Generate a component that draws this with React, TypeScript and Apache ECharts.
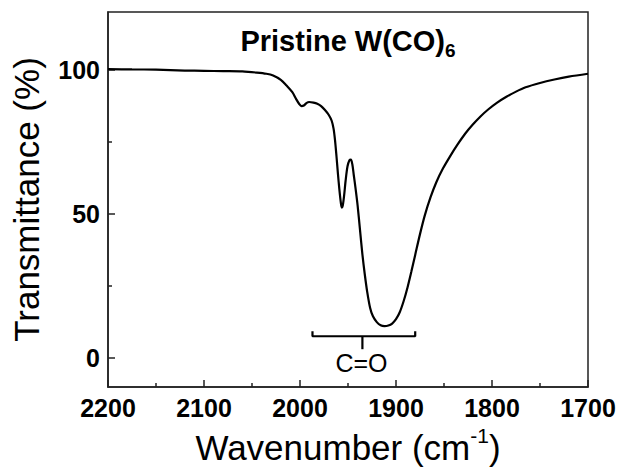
import React, { useEffect, useRef } from "react";
import * as echarts from "echarts";

const wavenumber = [
  2200, 2175, 2150, 2120, 2100, 2080, 2060, 2045, 2035, 2028, 2020, 2014, 2008, 2004, 2001,
  1998.5, 1996, 1993, 1990.5, 1986, 1982, 1978, 1974, 1970, 1967, 1965, 1963.5, 1962, 1960.5,
  1959, 1957.5, 1956.5, 1955.5, 1954, 1952.5, 1950.5, 1948.5, 1947, 1945.5, 1944, 1942, 1940,
  1937.5, 1935, 1932.5, 1930, 1927, 1924, 1920, 1916, 1912, 1908, 1904, 1900, 1896, 1892, 1888,
  1884, 1880, 1875, 1870, 1864, 1858, 1851, 1844, 1836, 1828, 1820, 1812, 1804, 1795, 1785,
  1775, 1765, 1750, 1735, 1720, 1700,
];
const transmittance = [
  100.2, 100.1, 100.0, 99.7, 99.6, 99.5, 99.4, 99.0, 98.6, 98.0, 96.5, 94.5, 92.2, 89.8, 88.2,
  87.4, 87.6, 88.5, 88.8, 88.6, 88.2, 87.4, 86.0, 84.3, 82.3, 79.5, 75.5, 70.0, 64.0,
  58.5, 54.0, 52.2, 52.8, 56.5, 61.5, 66.5, 68.6, 68.8, 67.2, 63.5, 58.5, 53.0,
  44.5, 36.0, 29.0, 23.0, 17.5, 14.5, 12.5, 11.4, 11.1, 11.3, 12.0, 13.5, 16.0, 19.8, 24.5,
  30.0, 35.8, 43.0, 49.5, 55.8, 61.0, 65.8, 69.8, 74.0, 77.8, 81.0, 83.8, 86.2, 88.5, 90.6,
  92.4, 93.9, 95.4, 96.6, 97.6, 98.6,
];

// C=O bracket annotation (data coordinates)
const bracketX = [1987, 1987, 1880, 1880];
const bracketY = [9.3, 7.6, 7.6, 9.3];
const stemX = [1935, 1935];
const stemY = [7.6, 3.1];
const labelPoint = [1936, -1.8];
const labelText = "C=O";

const yLabels = [0, 50, 100];
const yMinor = [25, 75];

const FONT = "Liberation Sans, Arial, Helvetica, sans-serif";

export default function App() {
  const ref = useRef<HTMLDivElement>(null);
  useEffect(() => {
    if (!ref.current) return;
    const chart = echarts.init(ref.current, null, { renderer: "svg" });
    const curve = wavenumber.map((w, i) => [w, transmittance[i]]);
    const bracket = bracketX.map((w, i) => [w, bracketY[i]]);
    const stem = stemX.map((w, i) => [w, stemY[i]]);
    const lineStyle = { color: "#000", width: 2.2 };
    chart.setOption({
      animation: false,
      backgroundColor: "#fff",
      grid: {
        left: 108,
        right: 32,
        top: 12,
        bottom: 83,
        show: true,
        borderColor: "#222",
        borderWidth: 1.5,
        outerBoundsMode: "none",
        containLabel: false,
      },
      graphic: [
        {
          type: "text",
          x: 348,
          y: 22,
          style: {
            text: "{a|Pristine W(CO)}{s|6}",
            align: "center",
            verticalAlign: "top",
            rich: {
              a: { fontFamily: FONT, fontSize: 29, fontWeight: "bold", fill: "#000", lineHeight: 38, verticalAlign: "middle" },
              s: { fontFamily: FONT, fontSize: 19, fontWeight: "bold", fill: "#000", lineHeight: 38, verticalAlign: "bottom" },
            },
          },
        },
      ],
      xAxis: {
        type: "value",
        min: 1700,
        max: 2200,
        interval: 100,
        inverse: true,
        axisLine: { show: true, onZero: false, lineStyle: { color: "#222", width: 1.5 } },
        axisTick: { show: true, inside: true, length: 7, lineStyle: { color: "#222", width: 1.5 } },
        minorTick: { show: true, splitNumber: 2, length: 4, lineStyle: { color: "#222", width: 1.5 } },
        splitLine: { show: false },
        axisLabel: {
          color: "#000",
          fontFamily: FONT,
          fontSize: 25,
          fontWeight: "bold",
          margin: 8,
          formatter: (v: number) => String(v),
        },
        name: "{a|Wavenumber (cm}{s|-1}{a|)}",
        nameLocation: "middle",
        nameGap: 38,
        nameTextStyle: {
          rich: {
            a: { fontFamily: FONT, fontSize: 35, color: "#000", lineHeight: 44, verticalAlign: "middle" },
            s: { fontFamily: FONT, fontSize: 21, color: "#000", lineHeight: 44, verticalAlign: "top" },
          },
        },
      },
      yAxis: [
        {
          type: "value",
          min: -10,
          max: 120,
          axisLine: { show: true, onZero: false, lineStyle: { color: "#222", width: 1.5 } },
          axisTick: { show: true, inside: true, length: 7, customValues: yLabels, lineStyle: { color: "#222", width: 1.5 } },
          splitLine: { show: false },
          axisLabel: {
            color: "#000",
            fontFamily: FONT,
            fontSize: 25,
            fontWeight: "bold",
            margin: 8,
            customValues: yLabels,
            formatter: (v: number) => String(v),
          },
          name: "Transmittance (%)",
          nameLocation: "middle",
          nameGap: 64,
          nameRotate: 90,
          nameTextStyle: { fontFamily: FONT, fontSize: 35, color: "#000" },
        },
        {
          type: "value",
          min: -10,
          max: 120,
          position: "left",
          axisLine: { show: false },
          axisTick: { show: true, inside: true, length: 4, customValues: yMinor, lineStyle: { color: "#222", width: 1.5 } },
          splitLine: { show: false },
          axisLabel: { show: false },
        },
      ],
      series: [
        {
          type: "line",
          data: curve,
          showSymbol: false,
          smooth: 0.3,
          lineStyle,
          silent: true,
        },
        { type: "line", data: bracket, showSymbol: false, lineStyle, silent: true },
        { type: "line", data: stem, showSymbol: false, lineStyle, silent: true },
        {
          type: "scatter",
          data: [labelPoint],
          symbolSize: 1,
          itemStyle: { color: "rgba(0,0,0,0)", opacity: 1 },
          label: {
            show: true,
            position: "inside",
            formatter: labelText,
            fontFamily: FONT,
            fontSize: 25,
            color: "#000",
            opacity: 1,
          },
          silent: true,
        },
      ],
    });
    return () => chart.dispose();
  }, []);
  return <div ref={ref} style={{ position: "fixed", left: 0, top: 0, width: 620, height: 470 }} />;
}
